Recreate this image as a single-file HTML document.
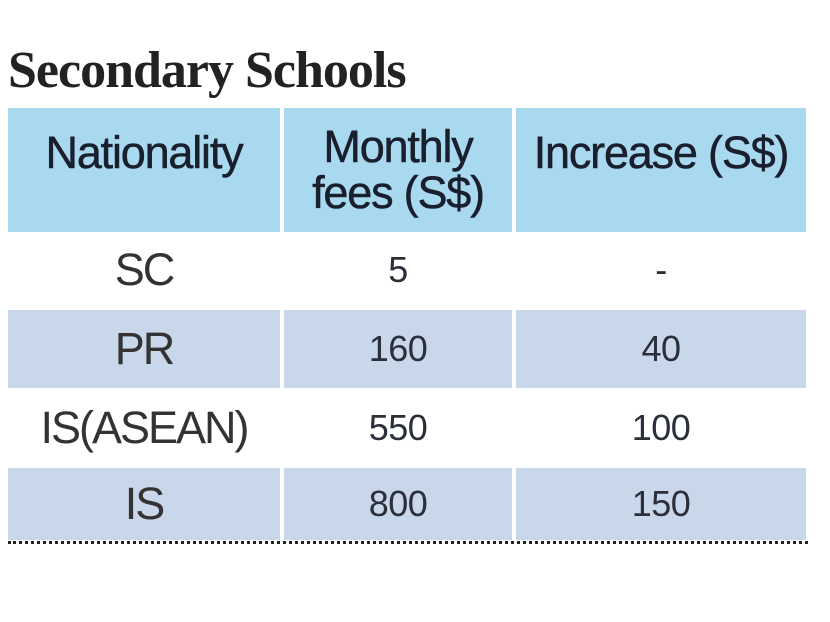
<!DOCTYPE html>
<html><head><style>
body{margin:0;width:830px;height:622px;background:#fff;overflow:hidden;position:relative;font-family:"Liberation Sans",sans-serif}
.t{position:absolute;left:8px;top:43px;font-family:"Liberation Serif",serif;font-weight:bold;font-size:52px;letter-spacing:-1px;color:#222;line-height:56px}
.c{position:absolute;display:flex;align-items:center;justify-content:center;text-align:center;color:#2a2f3a}
.h{background:#a9d9ef;font-size:45px;line-height:46px;color:#1a1f2e;letter-spacing:-1.2px;-webkit-text-stroke:0.5px #1a1f2e}
.b{background:#c9d7eb}
.n{font-size:36px;letter-spacing:-0.5px}
.l{font-size:45px;letter-spacing:-2px;color:#333}
.dot{position:absolute;left:8px;top:541px;width:800px;border-top:3px dotted #222}
</style></head><body>
<div class="t">Secondary Schools</div>
<div class="c h" style="left:8px;top:108px;width:272px;height:124px;align-items:flex-start"><span style="margin-top:22px">Nationality</span></div>
<div class="c h" style="left:284px;top:108px;width:228px;height:124px"><span>Monthly<br>fees (S$)</span></div>
<div class="c h" style="left:516px;top:108px;width:290px;height:124px;align-items:flex-start"><span style="margin-top:22px">Increase (S$)</span></div>

<div class="c l" style="left:8px;top:232px;width:272px;height:76px">SC</div>
<div class="c n" style="left:284px;top:232px;width:228px;height:76px">5</div>
<div class="c n" style="left:516px;top:232px;width:290px;height:76px">-</div>

<div class="c l b" style="left:8px;top:310px;width:272px;height:78px">PR</div>
<div class="c n b" style="left:284px;top:310px;width:228px;height:78px">160</div>
<div class="c n b" style="left:516px;top:310px;width:290px;height:78px">40</div>

<div class="c l" style="left:8px;top:390px;width:272px;height:76px">IS(ASEAN)</div>
<div class="c n" style="left:284px;top:390px;width:228px;height:76px">550</div>
<div class="c n" style="left:516px;top:390px;width:290px;height:76px">100</div>

<div class="c l b" style="left:8px;top:468px;width:272px;height:72px">IS</div>
<div class="c n b" style="left:284px;top:468px;width:228px;height:72px">800</div>
<div class="c n b" style="left:516px;top:468px;width:290px;height:72px">150</div>
<div class="dot"></div>
</body></html>
